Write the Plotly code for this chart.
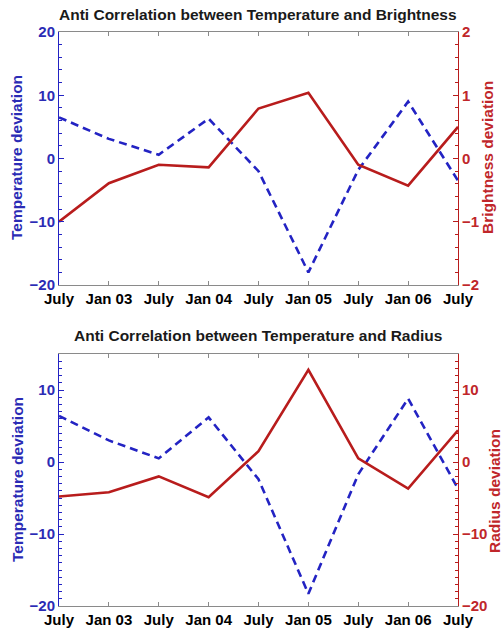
import plotly.graph_objects as go

# ---- data ----
period_labels = ["July", "Jan 03", "July", "Jan 04", "July", "Jan 05", "July", "Jan 06", "July"]
temperature_dev = [6.5, 3.1, 0.6, 6.3, -2.0, -18.0, -1.8, 9.0, -3.5]
brightness_dev = [-1.0, -0.39, -0.10, -0.14, 0.79, 1.04, -0.10, -0.43, 0.50]
temperature_dev2 = [6.4, 3.0, 0.5, 6.2, -2.4, -18.3, -1.7, 8.8, -3.7]
radius_dev = [-4.8, -4.2, -2.0, -4.9, 1.5, 12.8, 0.5, -3.7, 4.4]

x_pos = list(range(len(period_labels)))

BLUE = "#2323c3"
RED = "#b81c1c"
BLUE_T = "#2b2bb5"
RED_T = "#c0262a"
FONT = "Liberation Sans"

W, H = 503, 629
xdom = [59 / W, 458 / W]
top_dom = [1 - 285 / H, 1 - 32 / H]
bot_dom = [1 - 606 / H, 1 - 354 / H]

fig = go.Figure()

fig.add_trace(go.Scatter(x=x_pos, y=temperature_dev, mode="lines", xaxis="x", yaxis="y",
                         line=dict(color=BLUE, width=2.6, dash="8px,5px")))
fig.add_trace(go.Scatter(x=x_pos, y=brightness_dev, mode="lines", xaxis="x", yaxis="y2",
                         line=dict(color=RED, width=2.6)))
fig.add_trace(go.Scatter(x=x_pos, y=temperature_dev2, mode="lines", xaxis="x2", yaxis="y3",
                         line=dict(color=BLUE, width=2.6, dash="8px,5px")))
fig.add_trace(go.Scatter(x=x_pos, y=radius_dev, mode="lines", xaxis="x2", yaxis="y4",
                         line=dict(color=RED, width=2.6)))

def xax(anchor):
    return dict(domain=xdom, anchor=anchor, range=[0, 8], tickmode="array", automargin=False,
                tickvals=x_pos, ticktext=period_labels, showgrid=False, zeroline=False,
                showline=True, linecolor="#8a8a8a", linewidth=1, mirror="ticks",
                ticks="inside", ticklen=4, tickcolor="#8a8a8a",
                tickfont=dict(family=FONT, size=15, color="black", weight="bold"))

def yax(dom, rng, dtick, minor, color, tcolor, side, anchor, overlay=None):
    d = dict(range=rng, dtick=dtick, tick0=0, side=side, anchor=anchor, showgrid=False,
             zeroline=False, showline=True, linecolor=color, linewidth=1, automargin=False,
             ticks="inside", ticklen=5, tickcolor=color,
             minor=dict(ticks="inside", ticklen=3, dtick=minor, tickcolor=color, showgrid=False),
             tickfont=dict(family=FONT, size=15, color=tcolor, weight="bold"))
    if overlay:
        d["overlaying"] = overlay
    else:
        d["domain"] = dom
    return d

fig.update_layout(
    width=W, height=H, margin=dict(l=0, r=0, t=0, b=0, autoexpand=False),
    paper_bgcolor="white", plot_bgcolor="white", showlegend=False,
    xaxis=xax("y"),
    xaxis2=xax("y3"),
    yaxis=yax(top_dom, [-20, 20], 10, 2, BLUE, BLUE_T, "left", "x"),
    yaxis2=yax(None, [-2, 2], 1, 0.2, RED, RED_T, "right", "x", overlay="y"),
    yaxis3=yax(bot_dom, [-20, 15], 10, 1, BLUE, BLUE_T, "left", "x2"),
    yaxis4=yax(None, [-20, 15], 10, 1, RED, RED_T, "right", "x2", overlay="y3"),
)

ann = [
    dict(text="Anti Correlation between Temperature and Brightness", x=258 / W, y=1 - 14 / H,
         font=dict(size=15.5, color="#1a1a1a")),
    dict(text="Anti Correlation between Temperature and Radius", x=258 / W, y=1 - 335 / H,
         font=dict(size=15.5, color="#1a1a1a")),
    dict(text="Temperature deviation", x=17 / W, y=1 - 158 / H, textangle=-90,
         font=dict(size=15.5, color=BLUE_T)),
    dict(text="Brightness deviation", x=488 / W, y=1 - 158 / H, textangle=-90,
         font=dict(size=15.5, color=RED_T)),
    dict(text="Temperature deviation", x=17 / W, y=1 - 480 / H, textangle=-90,
         font=dict(size=15.5, color=BLUE_T)),
    dict(text="Radius deviation", x=494 / W, y=1 - 491 / H, textangle=-90,
         font=dict(size=15.5, color=RED_T)),
]
for a in ann:
    a["font"]["family"] = FONT
    a["font"]["weight"] = "bold"
    fig.add_annotation(xref="paper", yref="paper", showarrow=False, xanchor="center",
                       yanchor="middle", **a)

fig.write_html("out.html")
